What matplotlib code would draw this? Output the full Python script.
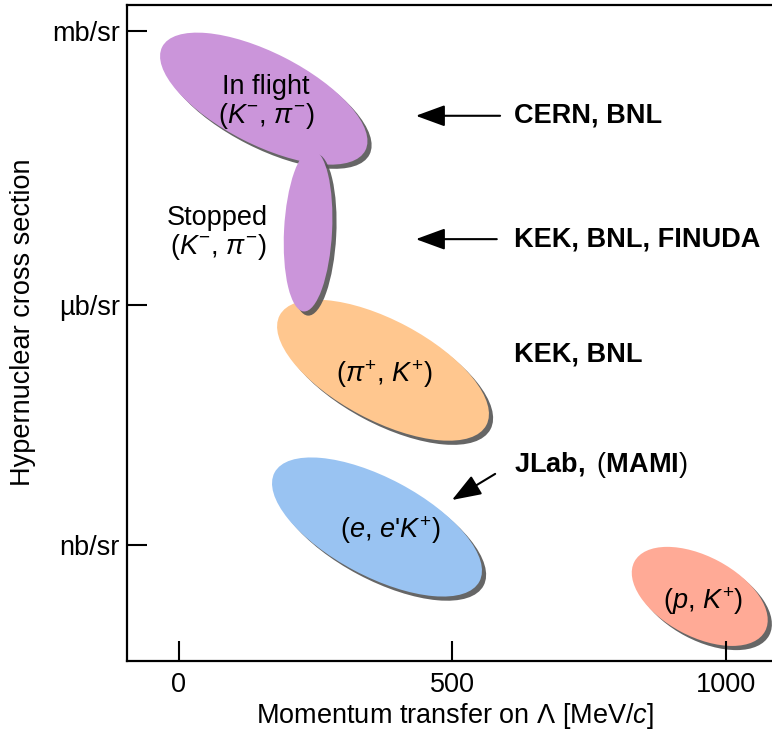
import matplotlib.pyplot as plt
import matplotlib.patheffects as pe
from matplotlib.patches import Ellipse
from matplotlib.transforms import ScaledTranslation

plt.rcParams['font.family'] = ['Liberation Sans', 'DejaVu Sans']
plt.rcParams['mathtext.fontset'] = 'custom'
plt.rcParams['mathtext.rm'] = 'Liberation Sans'
plt.rcParams['mathtext.it'] = 'Liberation Sans:italic'
plt.rcParams['mathtext.bf'] = 'Liberation Sans:bold'

# reaction regions: momentum transfer (MeV/c) and cross section (decades, 0 = nb/sr)
q_center = [373, 362, 952, 155, 236]
xs_center = [2.04, 0.21, -0.60, 5.21, 3.67]
region_colors = ['#FFC78F', '#99C3F2', '#FFAA96', '#CB95DA', '#CB95DA']

reaction_labels = ['($\\pi^{+}$, $K^{+}$)', '($e$, $e$\'$K^{+}$)', '($p$, $K^{+}$)',
                   'In flight\n($K^{-}$, $\\pi^{-}$)', 'Stopped\n($K^{-}$, $\\pi^{-}$)']
label_q = [375, 386, 958, 159, 71]
label_xs = [2.0, 0.175, -0.65, 5.16, 3.64]

labs = ['CERN, BNL', 'KEK, BNL, FINUDA', 'KEK, BNL', '$\\mathbf{JLab,}$ ($\\mathbf{MAMI}$)']
lab_weight = ['bold', 'bold', 'bold', 'normal']
lab_xs = [5.01, 3.57, 2.22, 0.93]
lab_q = 612

# arrows (tail -> head)
arrow_tail = [(587, 5.01), (581, 3.57), (578, 0.83)]
arrow_head = [(433, 5.01), (433, 3.57), (499, 0.525)]

ytick_pos = [0, 2.8, 6]
ytick_labels = ['nb/sr', 'µb/sr', 'mb/sr']
xtick_pos = [0, 500, 1000]

fig = plt.figure(figsize=(7.72, 7.31), dpi=100)
ax = fig.add_axes([127 / 772, 70 / 731, 663 / 772, 656 / 731])
ax.set_xlim(-95, 1117)
ax.set_ylim(-1.354, 6.303)

# ellipse shapes in pixels: half axes and tilt
half_a = [117, 116, 74, 114, 81]
half_b = [50, 49, 40, 46, 24]
tilt = [-28, -28, -28, -27, 87]

shadow = [pe.SimplePatchShadow(offset=(3, -3), shadow_rgbFace='#555555', alpha=0.9), pe.Normal()]
for i in range(len(q_center)):
    tr = fig.dpi_scale_trans + ScaledTranslation(q_center[i], xs_center[i], ax.transData)
    e = Ellipse((0, 0), 2 * half_a[i] / 100, 2 * half_b[i] / 100, angle=tilt[i],
                facecolor=region_colors[i], edgecolor='none', transform=tr, clip_on=False)
    e.set_path_effects(shadow)
    ax.add_patch(e)
    ax.text(label_q[i], label_xs[i], reaction_labels[i], ha='center', va='center',
            fontsize=19.5, linespacing=1.05)

for i in range(len(labs)):
    ax.text(lab_q, lab_xs[i], labs[i], ha='left', va='center', fontsize=19.5,
            fontweight=lab_weight[i])

for t, h in zip(arrow_tail, arrow_head):
    ax.annotate('', xy=h, xytext=t,
                arrowprops=dict(arrowstyle='-|>,head_length=0.9,head_width=0.33',
                                mutation_scale=20, lw=1.5, color='black',
                                shrinkA=0, shrinkB=0))

ax.set_xticks(xtick_pos)
ax.set_yticks(ytick_pos)
ax.set_yticklabels(ytick_labels)
ax.tick_params(direction='in', length=14.5, width=1.5, labelsize=19.5)
ax.tick_params(axis='x', pad=8)
ax.tick_params(axis='y', pad=5)
for s in ['left', 'bottom', 'top']:
    ax.spines[s].set_linewidth(1.6)
ax.spines['right'].set_visible(False)

ax.set_xlabel('Momentum transfer on Λ [MeV/$c$]', fontsize=19.5)
ax.set_ylabel('Hypernuclear cross section', fontsize=19.5)
ax.xaxis.set_label_coords(0.495, -0.061)
ax.yaxis.set_label_coords(-0.137, 0.517)

fig.savefig('out.png', dpi=100)
